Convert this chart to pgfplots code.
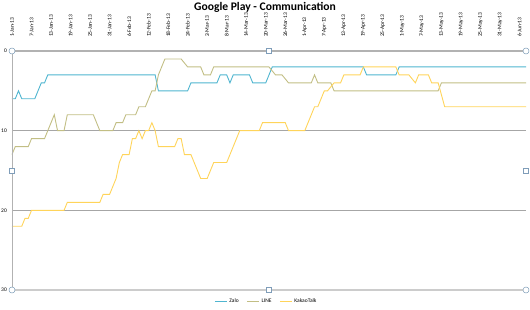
\documentclass[border=0pt]{standalone}
\usepackage{pgfplots}
\pgfplotsset{compat=1.18}
\usepackage{fontspec}
\setmainfont{Carlito}
\definecolor{zalo}{HTML}{4FB5D0}
\definecolor{linec}{HTML}{C2BE84}
\definecolor{kakao}{HTML}{FFD45A}
\definecolor{handle}{HTML}{7F9DB9}
\begin{document}
\begin{tikzpicture}[x=1pt,y=1pt]
\useasboundingbox (0,0) rectangle (530,310);
\node[font=\fontsize{11.6}{13}\selectfont\bfseries] at (265,302.5) {Google Play - Communication};
\begin{axis}[
  at={(12pt,20pt)}, anchor=south west, scale only axis,
  width=514pt, height=239pt,
  xmin=0, xmax=158, ymin=0, ymax=30, y dir=reverse,
  clip=false,
  axis line style={draw=none},
  /pgf/number format/assume math mode=true,
  xtick={0,6,...,156},
  xticklabels={1-Jan-13,7-Jan-13,13-Jan-13,19-Jan-13,25-Jan-13,31-Jan-13,6-Feb-13,12-Feb-13,18-Feb-13,24-Feb-13,2-Mar-13,8-Mar-13,14-Mar-13,20-Mar-13,26-Mar-13,1-Apr-13,7-Apr-13,13-Apr-13,19-Apr-13,25-Apr-13,1-May-13,7-May-13,13-May-13,19-May-13,25-May-13,31-May-13,6-Jun-13},
  xticklabel pos=upper,
  xticklabel style={rotate=90, anchor=west, font=\fontsize{5.5}{6}\selectfont, inner sep=0pt},
  xticklabel shift=14pt,
  ytick={0,10,20,30},
  yticklabel style={font=\fontsize{5.5}{6}\selectfont, inner sep=0pt},
  yticklabel shift=5pt,
  major tick length=0pt,
  ymajorgrids, major grid style={draw=gray!70, line width=0.7pt},
  legend style={at={(0.495,-0.047)}, anchor=center, draw=none, fill=none,
    legend columns=3, font=\fontsize{5.5}{6}\selectfont,
    /tikz/every even column/.append style={column sep=6pt}},
  legend image code/.code={\draw[#1] (0pt,0pt) -- (12pt,0pt);},
  every axis plot/.append style={line width=0.9pt, mark=none},
]
\addplot[zalo] coordinates {(0,6)(1,6)(2,5)(3,6)(7,6)(8,5)(9,4)(10,4)(11,3)(44,3)(45,5)(54,5)(55,4)(63,4)(64,3)(66,3)(67,4)(68,3)(73,3)(74,4)(78,4)(79,3)(80,2)(108,2)(109,3)(118,3)(119,2)(158,2)};
\addlegendentry{Zalo}
\addplot[linec] coordinates {(0,13)(1,12)(5,12)(6,11)(10,11)(11,10)(12,9)(13,8)(14,10)(16,10)(17,8)(25,8)(26,9)(27,10)(31,10)(32,9)(34,9)(35,8)(38,8)(39,7)(41,7)(42,6)(43,5)(44,5)(45,3)(46,2)(47,1)(52,1)(54,2)(58,2)(59,3)(61,3)(62,2)(79,2)(81,3)(83,3)(85,4)(92,4)(93,3)(94,4)(98,4)(99,5)(131,5)(132,4)(158,4)};
\addlegendentry{LINE}
\addplot[kakao] coordinates {(0,22)(3,22)(4,21)(5,21)(6,20)(16,20)(17,19)(27,19)(28,18)(30,18)(31,17)(32,16)(33,14)(34,13)(36,13)(37,11)(38,11)(39,10)(40,11)(41,10)(42,10)(43,9)(44,10)(45,12)(50,12)(51,11)(52,11)(53,13)(55,13)(56,14)(57,15)(58,16)(60,16)(61,15)(62,14)(66,14)(67,13)(68,12)(69,11)(70,10)(76,10)(77,9)(84,9)(85,10)(90,10)(91,9)(92,8)(93,7)(94,7)(95,6)(96,5)(97,5)(99,4)(101,4)(102,3)(107,3)(108,2)(118,2)(119,3)(122,3)(124,4)(125,3)(128,3)(129,4)(131,4)(133,7)(158,7)};
\addlegendentry{KakaoTalk}
\draw[gray!40, line width=1.8pt] (rel axis cs:0,0) -- (rel axis cs:1,0);
\draw[gray!60, line width=1.2pt] (rel axis cs:0,1) -- (rel axis cs:1,1);
\draw[gray!60, line width=0.8pt] (rel axis cs:0,0) -- (rel axis cs:0,1);
\draw[handle, fill=white, line width=0.5pt] (rel axis cs:0,0) circle[radius=3pt];
\draw[handle, fill=white, line width=0.5pt] (rel axis cs:1,0) circle[radius=3pt];
\draw[handle, fill=white, line width=0.5pt] (rel axis cs:0,1) circle[radius=3pt];
\draw[handle, fill=white, line width=0.5pt] (rel axis cs:1,1) circle[radius=3pt];
\draw[handle, fill=white, line width=0.5pt] ([shift={(-2.3pt,-2.3pt)}]rel axis cs:0.5,0) rectangle ([shift={(2.3pt,2.3pt)}]rel axis cs:0.5,0);
\draw[handle, fill=white, line width=0.5pt] ([shift={(-2.3pt,-2.3pt)}]rel axis cs:0.5,1) rectangle ([shift={(2.3pt,2.3pt)}]rel axis cs:0.5,1);
\draw[handle, fill=white, line width=0.5pt] ([shift={(-2.3pt,-2.3pt)}]rel axis cs:0,0.5) rectangle ([shift={(2.3pt,2.3pt)}]rel axis cs:0,0.5);
\draw[handle, fill=white, line width=0.5pt] ([shift={(-2.3pt,-2.3pt)}]rel axis cs:1,0.5) rectangle ([shift={(2.3pt,2.3pt)}]rel axis cs:1,0.5);
\end{axis}
\end{tikzpicture}
\end{document}
